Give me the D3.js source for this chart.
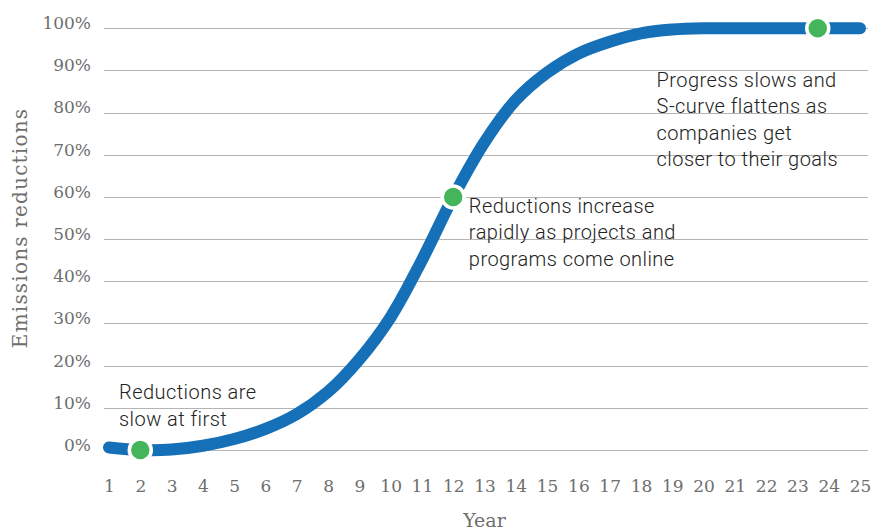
<!DOCTYPE html>
<html>
<head>
<meta charset="utf-8">
<script src="https://cdn.jsdelivr.net/npm/d3@7"></script>
<style>
  html, body { margin: 0; padding: 0; background: #ffffff; }
  svg { display: block; }
  .tick-label { font-family: "Roboto Slab", "DejaVu Serif", serif; font-size: 17px; fill: #6e6e6e; }
  .axis-title { font-family: "Roboto Slab", "DejaVu Serif", serif; font-size: 19px; fill: #6e6e6e; }
  .y-title { font-size: 20px; letter-spacing: 1.2px; }
  .note { font-family: Roboto, "Noto Sans", sans-serif; font-weight: 300; font-size: 20px; letter-spacing: 0.45px; fill: #222222; }
</style>
</head>
<body>
<svg id="chart" width="889" height="531"></svg>
<script>
// Years along the horizontal axis
const years = d3.range(1, 26);

// Cumulative emissions reductions (%) for each year — S-curve
const reductions = [0.6, 0, 0.1, 1, 2.6, 5, 8.5, 13.8, 21.5, 31.5, 45, 60, 73, 83, 89.5, 94, 96.8, 98.8, 99.7, 100, 100, 100, 100, 100, 100];

// Y tick values (%)
const yTicks = [0, 10, 20, 30, 40, 50, 60, 70, 80, 90, 100];

// Highlighted milestones on the curve
const markerYears = [2, 12, 23.65];
const markerValues = [0, 60, 100];

// Annotation text blocks
const noteLines = [
  ["Reductions are", "slow at first"],
  ["Reductions increase", "rapidly as projects and", "programs come online"],
  ["Progress slows and", "S-curve flattens as", "companies get", "closer to their goals"]
];
const noteYears = [1.32, 12.5, 18.5];
const noteValues = [12, 56.3, 86.1];

const svg = d3.select("#chart");

const x = d3.scaleLinear().domain([1, 25]).range([109, 860]);
const y = d3.scaleLinear().domain([0, 100]).range([450, 28.3]);

const gridLeft = 104, gridRight = 868;

// Horizontal gridlines
svg.append("g")
  .selectAll("line")
  .data(yTicks)
  .join("line")
  .attr("x1", gridLeft)
  .attr("x2", gridRight)
  .attr("y1", d => Math.round(y(d)) + 0.5)
  .attr("y2", d => Math.round(y(d)) + 0.5)
  .attr("stroke", "#b4b4b4")
  .attr("stroke-width", 1);

// Y axis labels, sitting on their gridlines
const yAxis = svg.append("g")
  .attr("transform", "translate(91,0)")
  .call(d3.axisLeft(y).tickValues(yTicks).tickSize(0).tickPadding(0).tickFormat(d => d + "%"));
yAxis.select(".domain").remove();
yAxis.selectAll("text")
  .attr("class", "tick-label")
  .attr("dy", "0.02em")
  .attr("font-family", null)
  .attr("font-size", null);

// X axis labels
const xAxis = svg.append("g")
  .attr("transform", "translate(0,480)")
  .call(d3.axisBottom(x).tickValues(years).tickSize(0).tickPadding(0).tickFormat(d3.format("d")));
xAxis.select(".domain").remove();
xAxis.selectAll("text")
  .attr("class", "tick-label")
  .attr("font-family", null)
  .attr("font-size", null);

// Axis titles
svg.append("text")
  .attr("class", "axis-title")
  .attr("x", (x(1) + x(25)) / 2)
  .attr("y", 527)
  .attr("text-anchor", "middle")
  .text("Year");

svg.append("text")
  .attr("class", "axis-title y-title")
  .attr("transform", "translate(27,228) rotate(-90)")
  .attr("text-anchor", "middle")
  .text("Emissions reductions");

// S-curve
const series = years.map((yr, i) => ({ year: yr, value: reductions[i] }));
const line = d3.line()
  .x(d => x(d.year))
  .y(d => y(d.value))
  .curve(d3.curveCatmullRom.alpha(0.5));

svg.append("path")
  .datum(series)
  .attr("d", line)
  .attr("fill", "none")
  .attr("stroke", "#1570b8")
  .attr("stroke-width", 12)
  .attr("stroke-linecap", "round")
  .attr("stroke-linejoin", "round");

// Milestone markers
svg.append("g")
  .selectAll("circle")
  .data(markerYears.map((yr, i) => ({ year: yr, value: markerValues[i] })))
  .join("circle")
  .attr("cx", d => x(d.year))
  .attr("cy", d => y(d.value))
  .attr("r", 11)
  .attr("fill", "#45b55b")
  .attr("stroke", "#ffffff")
  .attr("stroke-width", 3.5);

// Annotations
noteLines.forEach((lines, i) => {
  const t = svg.append("text")
    .attr("class", "note")
    .attr("x", x(noteYears[i]))
    .attr("y", y(noteValues[i]));
  lines.forEach((ln, j) => {
    t.append("tspan")
      .attr("x", x(noteYears[i]))
      .attr("dy", j === 0 ? 0 : 26.5)
      .text(ln);
  });
});
</script>
</body>
</html>
